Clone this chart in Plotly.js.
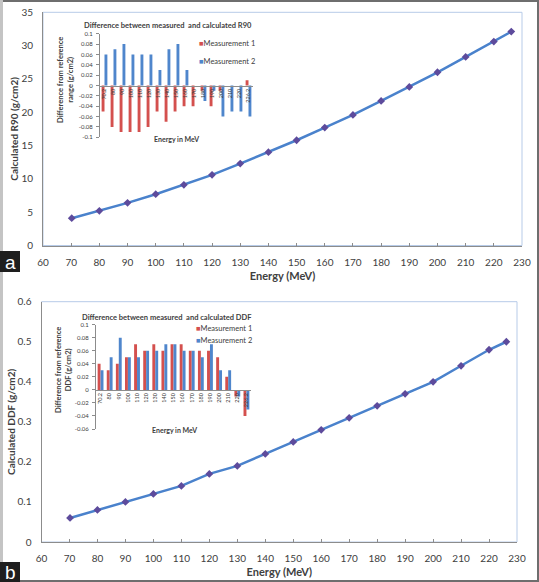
<!DOCTYPE html>
<html>
<head>
<meta charset="utf-8">
<script src="https://cdn.plot.ly/plotly-3.0.1.min.js"></script>
<style>html,body{margin:0;padding:0;background:#fff;}#chart{width:539px;height:582px;}</style>
</head>
<body>
<div id="chart"></div>
<script>
// ---- data ----
const energies = [70.2, 80, 90, 100, 110, 120, 130, 140, 150, 160, 170, 180, 190, 200, 210, 220, 226.2];
const r90Calculated = [4.1, 5.2, 6.4, 7.7, 9.1, 10.6, 12.3, 14.0, 15.8, 17.7, 19.6, 21.7, 23.8, 26.0, 28.3, 30.6, 32.1];
const ddfCalculated = [0.06, 0.08, 0.10, 0.12, 0.14, 0.17, 0.19, 0.22, 0.25, 0.28, 0.31, 0.34, 0.37, 0.40, 0.44, 0.48, 0.50];
const insetCategories = ['70.2', '80', '90', '100', '110', '120', '130', '140', '150', '160', '170', '180', '190', '200', '210', '220', '226.2'];
const r90DiffMeasurement1 = [-0.05, -0.08, -0.09, -0.09, -0.09, -0.08, -0.05, -0.07, -0.05, -0.04, -0.04, -0.01, -0.04, -0.01, 0, 0, 0.01];
const r90DiffMeasurement2 = [0.06, 0.07, 0.08, 0.06, 0.06, 0.06, 0.03, 0.07, 0.08, 0.03, 0, -0.03, -0.01, -0.06, -0.05, -0.05, -0.06];
const ddfDiffMeasurement1 = [0.04, 0.03, 0.04, 0.05, 0.07, 0.06, 0.07, 0.06, 0.07, 0.07, 0.06, 0.06, 0.06, 0.05, 0.02, -0.01, -0.04];
const ddfDiffMeasurement2 = [0.03, 0.05, 0.08, 0.05, 0.05, 0.06, 0.06, 0.07, 0.07, 0.06, 0.06, 0.05, 0.07, 0.03, 0.03, -0.01, -0.03];
const mainXTicks = [60, 70, 80, 90, 100, 110, 120, 130, 140, 150, 160, 170, 180, 190, 200, 210, 220, 230];
const r90YTicks = [0, 5, 10, 15, 20, 25, 30, 35];
const ddfYTicks = [0, 0.1, 0.2, 0.3, 0.4, 0.5, 0.6];
const ddfYLabels = ['0', '0.1', '0.2', '0.3', '0.4', '0.5', '0.6'];
const insetAYTicks = [0.1, 0.08, 0.06, 0.04, 0.02, 0, -0.02, -0.04, -0.06, -0.08, -0.1];
const insetAYLabels = ['0.1', '0.08', '0.06', '0.04', '0.02', '0', '-0.02', '-0.04', '-0.06', '-0.08', '-0.1'];
const insetBYTicks = [0.1, 0.08, 0.06, 0.04, 0.02, 0, -0.02, -0.04, -0.06];
const insetBYLabels = ['0.1', '0.08', '0.06', '0.04', '0.02', '0', '-0.02', '-0.04', '-0.06'];

// ---- helpers ----
const W = 539, H = 582;
const px = v => v / W;
const py = v => 1 - v / H;
const FONT = 'Lato, "Liberation Sans", sans-serif';
const TXT = '#404040';
const AXC = '#8c8c8c';
const LINE = '#4a82cc';
const MARK = '#5d4b9c';
const RED = '#d4504e';
const BLUE = '#4f86cc';

const traces = [
  {x: energies, y: r90Calculated, xaxis: 'x', yaxis: 'y', type: 'scatter', mode: 'lines+markers',
   line: {color: LINE, width: 2.5}, marker: {symbol: 'diamond', size: 6, color: MARK}, showlegend: false, name: 'R90'},
  {x: energies, y: ddfCalculated, xaxis: 'x2', yaxis: 'y2', type: 'scatter', mode: 'lines+markers',
   line: {color: LINE, width: 2.5}, marker: {symbol: 'diamond', size: 6, color: MARK}, showlegend: false, name: 'DDF'},
  {x: insetCategories, y: r90DiffMeasurement1, xaxis: 'x3', yaxis: 'y3', type: 'bar', marker: {color: RED}, name: 'Measurement 1', showlegend: false},
  {x: insetCategories, y: r90DiffMeasurement2, xaxis: 'x3', yaxis: 'y3', type: 'bar', marker: {color: BLUE}, name: 'Measurement 2', showlegend: false},
  {x: insetCategories, y: ddfDiffMeasurement1, xaxis: 'x4', yaxis: 'y4', type: 'bar', marker: {color: RED}, name: 'Measurement 1', showlegend: false},
  {x: insetCategories, y: ddfDiffMeasurement2, xaxis: 'x4', yaxis: 'y4', type: 'bar', marker: {color: BLUE}, name: 'Measurement 2', showlegend: false}
];

function mainX(domain, anchor) {
  return {domain: domain, anchor: anchor, range: [60, 230], tickvals: mainXTicks, ticks: 'inside', ticklen: 3, tickcolor: AXC,
    showline: true, linecolor: AXC, linewidth: 1, showgrid: false, zeroline: false, ticklabelstandoff: 7,
    tickfont: {family: FONT, size: 10, color: TXT},
    title: {text: '<b>Energy (MeV)</b>', font: {family: FONT, size: 11, color: TXT}, standoff: 5}};
}
function mainY(domain, anchor, range, ticks, labels, title) {
  return {domain: domain, anchor: anchor, range: range, tickvals: ticks, ticktext: labels, ticks: '', showline: true, linecolor: AXC, linewidth: 1,
    showgrid: false, zeroline: false, ticklabelstandoff: 7, tickfont: {family: FONT, size: 10, color: TXT},
    title: {text: '<b>' + title + '</b>', font: {family: FONT, size: 10, color: TXT}, standoff: 0}};
}
function insetX(domain, anchorPos) {
  return {domain: domain, anchor: 'free', position: anchorPos, type: 'category', range: [-0.5, 16.5], tickangle: -90,
    ticks: '', showline: true, linecolor: AXC, linewidth: 1, showgrid: false, zeroline: false, ticklabelstandoff: 0,
    tickfont: {family: FONT, size: 5.5, color: TXT}};
}
function insetY(domain, anchor, range, vals, labels) {
  return {domain: domain, anchor: anchor, range: range, tickvals: vals, ticktext: labels, ticks: 'outside', ticklen: 3, tickcolor: AXC,
    showline: true, linecolor: AXC, linewidth: 1, showgrid: false, zeroline: false, ticklabelstandoff: 2,
    tickfont: {family: FONT, size: 6, color: TXT}};
}

const yA3 = [py(137.3), py(33.7)];
const yB4 = [py(429), py(324.7)];
const zeroA = yA3[0] + (0.1 / 0.2) * (yA3[1] - yA3[0]);
const zeroB = yB4[0] + (0.06 / 0.16) * (yB4[1] - yB4[0]);

const ann = [];
function addText(x, y, text, size, opts) {
  ann.push(Object.assign({xref: 'paper', yref: 'paper', x: px(x), y: py(y), text: text, showarrow: false,
    font: {family: FONT, size: size, color: TXT}, xanchor: 'center', yanchor: 'middle'}, opts || {}));
}
// inset A texts
addText(168, 26, '<b>Difference between measured  and calculated R90</b>', 7.5);
addText(66, 80, '<b>Difference from reference<br>range (g/cm2)</b>', 7.5, {textangle: -90});
addText(176, 139, '<b>Energy in MeV</b>', 7);
addText(197, 44, '<span style="color:' + RED + '">■</span>Measurement 1', 7.5, {xanchor: 'left'});
addText(197, 62, '<span style="color:' + BLUE + '">■</span>Measurement 2', 7.5, {xanchor: 'left'});
// inset B texts
addText(167, 317, '<b>Difference between measured  and calculated DDF</b>', 7.5);
addText(63, 370, '<b>Difference from reference<br>DDF (g/cm2)</b>', 7.5, {textangle: -90});
addText(174, 430, '<b>Energy in MeV</b>', 7);
addText(194, 328, '<span style="color:' + RED + '">■</span>Measurement 1', 7.5, {xanchor: 'left'});
addText(194, 340, '<span style="color:' + BLUE + '">■</span>Measurement 2', 7.5, {xanchor: 'left'});
// panel letters
addText(10, 262, 'a', 19, {font: {family: '"Liberation Sans", sans-serif', size: 19, color: '#ffffff'}});
addText(10, 572, 'b', 19, {font: {family: '"Liberation Sans", sans-serif', size: 19, color: '#ffffff'}});

const frameBlue = '#b7cbe8';
const shapes = [
  {type: 'rect', xref: 'paper', yref: 'paper', x0: px(43), x1: px(522), y0: py(245.5), y1: py(12.3), line: {color: frameBlue, width: 1}, layer: 'below'},
  {type: 'rect', xref: 'paper', yref: 'paper', x0: px(41.5), x1: px(517), y0: py(542), y1: py(301.7), line: {color: frameBlue, width: 1}, layer: 'below'},
  {type: 'rect', xref: 'paper', yref: 'paper', x0: px(1), x1: px(538), y0: py(581), y1: py(1), line: {color: '#6e6e6e', width: 2}},
  {type: 'line', xref: 'paper', yref: 'paper', x0: px(1.5), x1: px(1.5), y0: 0, y1: 1, line: {color: '#c4c4c4', width: 3}},
  {type: 'rect', xref: 'paper', yref: 'paper', x0: 0, x1: px(20), y0: py(272), y1: py(251), fillcolor: '#1e1e1e', line: {width: 0}},
  {type: 'rect', xref: 'paper', yref: 'paper', x0: 0, x1: px(20), y0: py(582), y1: py(562), fillcolor: '#1e1e1e', line: {width: 0}}
];

const layout = {
  width: W, height: H, margin: {l: 0, r: 0, t: 0, b: 0}, paper_bgcolor: '#ffffff', plot_bgcolor: 'rgba(0,0,0,0)',
  showlegend: false, barmode: 'group', bargap: 0.36, bargroupgap: 0,
  font: {family: FONT, color: TXT},
  xaxis: mainX([px(43), px(522)], 'y'),
  yaxis: mainY([py(245.5), py(12.3)], 'x', [0, 35], r90YTicks, r90YTicks.map(String), 'Calculated R90 (g/cm2)'),
  xaxis2: mainX([px(41.5), px(517)], 'y2'),
  yaxis2: mainY([py(542), py(301.7)], 'x2', [0, 0.6], ddfYTicks, ddfYLabels, 'Calculated DDF (g/cm2)'),
  xaxis3: insetX([px(100), px(253)], zeroA),
  yaxis3: insetY(yA3, 'x3', [-0.1, 0.1], insetAYTicks, insetAYLabels),
  xaxis4: insetX([px(96), px(251)], zeroB),
  yaxis4: insetY(yB4, 'x4', [-0.06, 0.1], insetBYTicks, insetBYLabels),
  annotations: ann,
  shapes: shapes
};

Plotly.newPlot('chart', traces, layout, {displayModeBar: false, staticPlot: true});
</script>
</body>
</html>
